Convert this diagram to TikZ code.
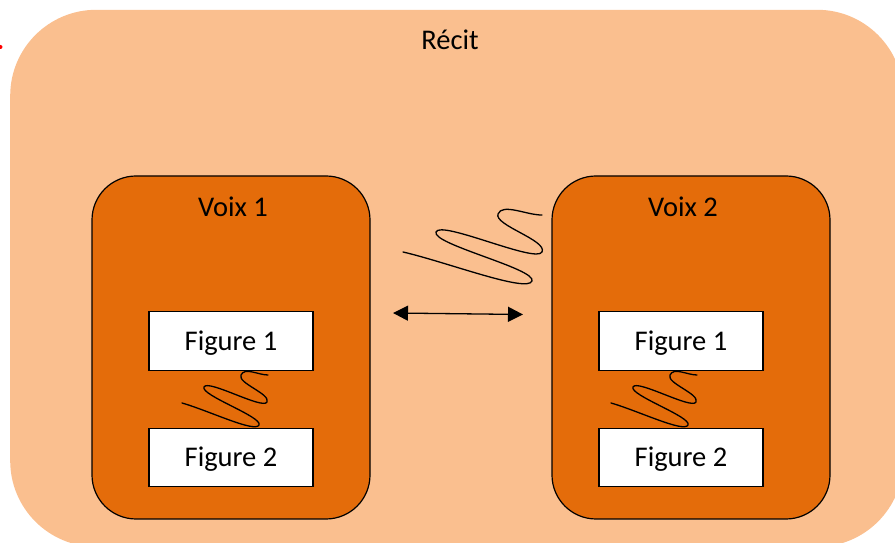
\documentclass[tikz,border=0pt]{standalone}
\usepackage{fontspec}
\setmainfont{Carlito}
\usetikzlibrary{arrows.meta}
\definecolor{recitfill}{HTML}{FABF8F}
\definecolor{voixfill}{HTML}{E46C0A}
\begin{document}
\begin{tikzpicture}[x=1pt,y=1pt,
  lbl/.style={font=\fontsize{28.5}{34}\selectfont, text=black},
  voixbox/.style={draw=black, line width=1.2pt, fill=voixfill, rounded corners=44pt,
    minimum width=278pt, minimum height=343pt, inner sep=0pt},
  figbox/.style={draw=black, line width=1.2pt, fill=white, minimum width=164pt,
    text height=38.5pt, text depth=20pt, inner sep=0pt, lbl},
  squig/.style={line width=1.3pt, line join=round, line cap=round},
]
\useasboundingbox (0,0) rectangle (895,543);
% outer panel, running past the right and bottom edges
\begin{scope}
  \clip (0,0) rectangle (895,543);
  \node[fill=recitfill, rounded corners=86pt, minimum width=893pt, minimum height=537pt,
        inner sep=0pt, anchor=south west] (recit) at (10,-4) {};
\end{scope}
\fill[red] (0.5,496) circle (2pt);
\node[lbl, anchor=base] (recitlbl) at (450,493) {Récit};

% the two voices
\node[voixbox] (v1) at (231,195.5) {};
\node[voixbox] (v2) at (691,195.5) {};
\node[lbl, anchor=base] (v1lbl) at (233,326) {Voix 1};
\node[lbl, anchor=base] (v2lbl) at (683,326) {Voix 2};

\node[figbox] (v1f1) at (231,202) {Figure 1};
\node[figbox] (v1f2) at (231,85.5) {Figure 2};
\node[figbox] (v2f1) at (681,202) {Figure 1};
\node[figbox] (v2f2) at (681,85.5) {Figure 2};

% exchange between the voices
\coordinate (al) at (393,230);
\coordinate (ar) at (523,228.5);
\draw[line width=1.3pt, {Triangle[length=15pt,width=15pt]}-{Triangle[length=15pt,width=15pt]}] (al) -- (ar);

% zigzag between the voices
\coordinate (za) at (403,291);
\coordinate (zb) at (532,262);
\coordinate (zc) at (436,311);
\coordinate (zd) at (542,291);
\coordinate (ze) at (498,329);
\coordinate (zf) at (542,328);
\draw[squig] (za) .. controls +(-13:45) and +(250:13) .. (zb)
  .. controls +(70:13) and +(250:13) .. (zc)
  .. controls +(70:13) and +(244:13) .. (zd)
  .. controls +(64:13) and +(249:12) .. (ze)
  .. controls +(69:12) and +(181:15) .. (zf);

% small zigzags between the figures
\foreach \dx/\s in {0/l, 429/r} {
  \begin{scope}[xshift=\dx pt]
    \coordinate (\s a) at (182,140);
    \coordinate (\s b) at (259,118);
    \coordinate (\s c) at (204,156);
    \coordinate (\s d) at (267,141);
    \coordinate (\s e) at (241,168);
    \coordinate (\s f) at (268,168);
    \draw[squig] (\s a) .. controls +(-16:28) and +(245:9) .. (\s b)
      .. controls +(65:9) and +(245:9) .. (\s c)
      .. controls +(65:9) and +(245:9) .. (\s d)
      .. controls +(65:9) and +(245:9) .. (\s e)
      .. controls +(65:9) and +(180:10) .. (\s f);
  \end{scope}
}
\end{tikzpicture}
\end{document}
